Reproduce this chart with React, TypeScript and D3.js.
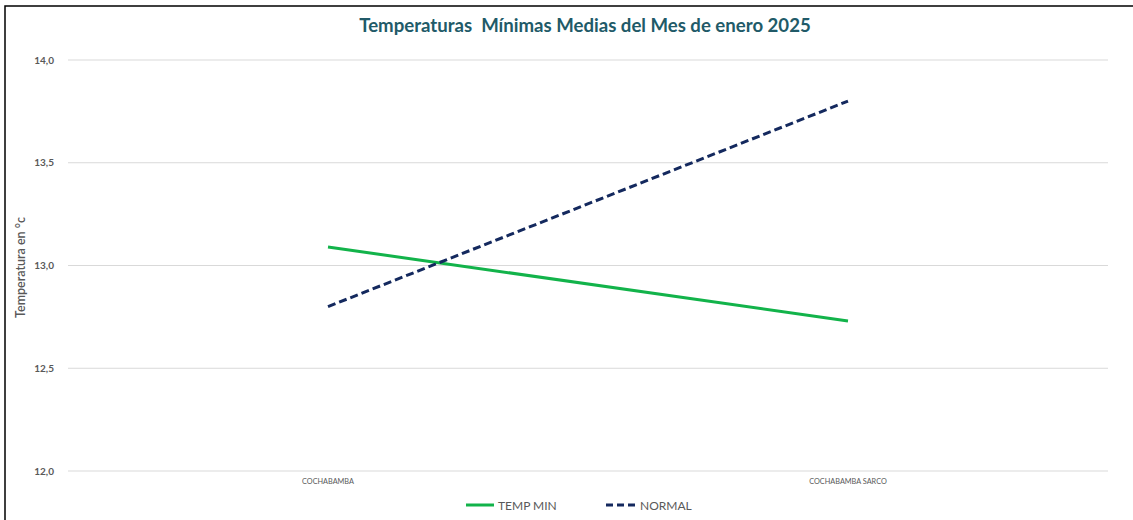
import React from "react";
import * as d3 from "d3";

const categories = ["COCHABAMBA", "COCHABAMBA SARCO"];
const tempMin = [13.09, 12.73];
const normal = [12.8, 13.8];
const yTicks = [12.0, 12.5, 13.0, 13.5, 14.0];

const W = 1133;
const H = 520;
const left = 68;
const right = 1108;
const top = 60;
const bottom = 471;

export default function App() {
  const x = d3.scaleBand<string>().domain(categories).range([left, right]);
  const y = d3.scaleLinear().domain([12, 14]).range([bottom, top]);
  const cx = (c: string) => (x(c) as number) + x.bandwidth() / 2;
  const line = d3
    .line<number>()
    .x((_, i) => cx(categories[i]))
    .y((d) => y(d));
  const font = "Lato, 'Open Sans', sans-serif";
  return (
    <svg
      width={W}
      height={H}
      style={{ position: "absolute", left: 0, top: 0, background: "#ffffff" }}
      fontFamily={font}
    >
      <rect x={5} y={6} width={W + 10} height={H + 10} fill="#ffffff" stroke="#000" strokeWidth={1.5} />
      <text x={585} y={32} textAnchor="middle" fontSize={18.6} fontWeight="bold" fill="#215a68" style={{ whiteSpace: "pre" }}>
        {"Temperaturas  Mínimas Medias del Mes de enero 2025"}
      </text>
      {yTicks.map((t) => (
        <g key={t}>
          <line x1={left} x2={right} y1={y(t)} y2={y(t)} stroke="#d9d9d9" strokeWidth={1} />
          <text x={54} y={y(t) + 3.5} textAnchor="end" fontSize={10} fontWeight="bold" fill="#595959">
            {d3.format(".1f")(t).replace(".", ",")}
          </text>
        </g>
      ))}
      <text
        transform={`translate(25,${(top + bottom) / 2 + 2}) rotate(-90)`}
        textAnchor="middle"
        fontSize={12.5}
        fill="#595959"
        fontWeight="600"
      >
        Temperatura en °c
      </text>
      {categories.map((c) => (
        <text key={c} x={cx(c)} y={484} textAnchor="middle" fontSize={7.3} fill="#595959">
          {c}
        </text>
      ))}
      <path d={line(tempMin) as string} fill="none" stroke="#12b34a" strokeWidth={3} />
      <path d={line(normal) as string} fill="none" stroke="#14295e" strokeWidth={3} strokeDasharray="8,4" />
      <line x1={466} x2={494} y1={505} y2={505} stroke="#12b34a" strokeWidth={3} />
      <text x={498} y={509.5} fontSize={12} fill="#595959">TEMP MIN</text>
      <line x1={606} x2={636} y1={505} y2={505} stroke="#14295e" strokeWidth={3} strokeDasharray="7,4" />
      <text x={640} y={509.5} fontSize={12} fill="#595959">NORMAL</text>
    </svg>
  );
}
